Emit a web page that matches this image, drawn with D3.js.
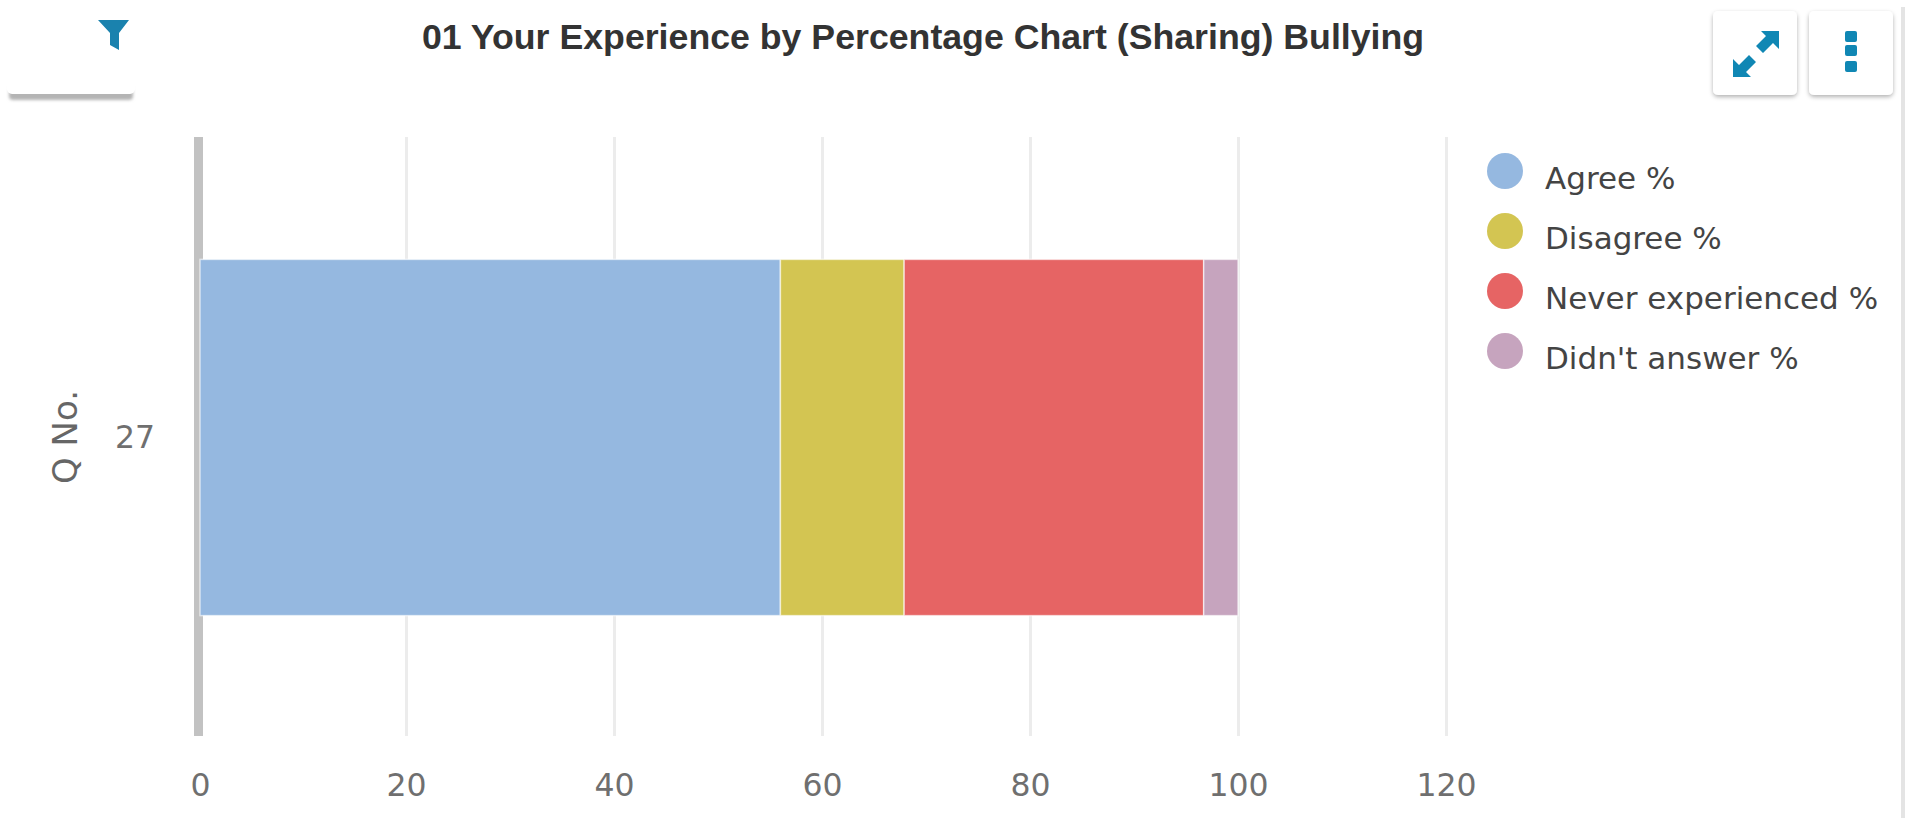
<!DOCTYPE html>
<html>
<head>
<meta charset="utf-8">
<script src="https://cdn.jsdelivr.net/npm/d3@7"></script>
<style>
	html, body { margin: 0; padding: 0; background: #fff; overflow: hidden; }
	.title { font: bold 35.7px "Liberation Sans", Arial, sans-serif; fill: #333; text-anchor: middle; }
	.axis text { font: 31.5px "DejaVu Sans", sans-serif; fill: #6f6f6f; }
	.legend text { font: 31px "DejaVu Sans", sans-serif; fill: #444; }
	.axis-title { font: 34px "DejaVu Sans", sans-serif; fill: #666; text-anchor: middle; }
</style>
</head>
<body>
<svg id="chart"></svg>
<script>
const categories = ['27'];
const seriesNames = ['Agree %', 'Disagree %', 'Never experienced %', "Didn't answer %"];
const agree = [56];
const disagree = [11.9];
const neverExperienced = [28.8];
const didntAnswer = [3.3];
const xTicks = [0, 20, 40, 60, 80, 100, 120];
const colors = ['#95b8e0', '#d3c552', '#e66464', '#c6a4be'];

const outerW = 1905,
	outerH = 818;

const margin = { left: 198, right: 459, top: 137, bottom: 82 };
const w = outerW - margin.left - margin.right,
	h = outerH - margin.top - margin.bottom;

const table = categories.map((c, i) => ({
	category: c,
	[seriesNames[0]]: agree[i],
	[seriesNames[1]]: disagree[i],
	[seriesNames[2]]: neverExperienced[i],
	[seriesNames[3]]: didntAnswer[i]
}));

const svg = d3.select('#chart')
	.attr('width', outerW)
	.attr('height', outerH);

const defs = svg.append('defs');
const shadow = defs.append('filter').attr('id', 'btn-shadow')
	.attr('x', '-10%').attr('y', '-10%').attr('width', '120%').attr('height', '125%');
shadow.append('feDropShadow')
	.attr('dx', 0).attr('dy', 2).attr('stdDeviation', 2)
	.attr('flood-color', '#000').attr('flood-opacity', 0.3);
defs.append('filter').attr('id', 'soft')
	.attr('x', '-10%').attr('y', '-100%').attr('width', '120%').attr('height', '300%')
	.append('feGaussianBlur').attr('stdDeviation', 1.5);

// page furniture: scrollbar edge, filter tab, buttons
svg.append('rect').attr('x', 1901).attr('y', 7).attr('width', 4).attr('height', outerH - 7).attr('fill', '#e4e4e4');

svg.append('rect').attr('x', 9).attr('y', 87).attr('width', 124).attr('height', 13).attr('rx', 4)
	.attr('fill', '#b4b4b4').attr('filter', 'url(#soft)');
svg.append('rect').attr('x', 7).attr('y', 10).attr('width', 128).attr('height', 84).attr('rx', 5)
	.attr('fill', '#fff');
svg.append('path')
	.attr('d', 'M98,20H129L119,33V50L110,45V33Z')
	.attr('fill', '#1a82ae');

[1713, 1809].forEach(bx => {
	svg.append('rect').attr('x', bx).attr('y', 11).attr('width', 84).attr('height', 84).attr('rx', 5)
		.attr('fill', '#fff').attr('filter', 'url(#btn-shadow)');
});
svg.append('path')
	.attr('d', 'M1761,31H1779V49L1773,43L1763,53L1756,46L1766,36Z M1733,77V59L1739,65L1749,55L1756,62L1746,72L1751,77Z')
	.attr('fill', '#1087b4');
[37, 51, 67].forEach(cy => {
	svg.append('rect').attr('x', 1845).attr('y', cy - 6).attr('width', 12).attr('height', 11).attr('rx', 2).attr('fill', '#1087b4');
});

svg.append('text').attr('class', 'title')
	.attr('x', 923).attr('y', 49)
	.text('01 Your Experience by Percentage Chart (Sharing) Bullying');

const g = svg.append('g')
	.attr('transform', `translate(${margin.left}, ${margin.top})`);

const x = d3.scaleLinear().domain([0, 120]).range([0, w]);
const y = d3.scaleBand().domain(categories).range([2, h]).paddingInner(0).paddingOuter(0.338);

// gridlines and labels
const xAxis = g.append('g')
	.attr('class', 'x axis')
	.attr('transform', `translate(0, ${h})`)
	.call(d3.axisBottom(x)
		.tickValues(xTicks)
		.tickSize(-h)
		.tickSizeOuter(0)
		.tickPadding(38)
	);
xAxis.select('.domain').remove();
xAxis.selectAll('line').attr('stroke', '#ececec').attr('stroke-width', 3);
xAxis.selectAll('line').filter(d => d === 0).attr('stroke', '#c2c2c2').attr('stroke-width', 9).attr('x1', 0).attr('x2', 0);
xAxis.selectAll('text').filter(d => d === 0).attr('dx', 2);

const yAxis = g.append('g')
	.attr('class', 'y axis')
	.call(d3.axisLeft(y).tickSize(0).tickPadding(43));
yAxis.select('.domain').remove();

g.append('text').attr('class', 'axis-title')
	.attr('transform', `translate(${65 - margin.left}, ${437 - margin.top}) rotate(-90)`)
	.attr('dy', '0.35em')
	.text('Q No.');

const stacked = d3.stack().keys(seriesNames)(table);

g.selectAll('.bar')
	.data(stacked)
	.enter()
	.append('rect')
	.attr('class', 'bar')
	.attr('x', d => x(d[0][0]) + (d.index === 0 ? 2 : 0))
	.attr('width', d => x(d[0][1]) - x(d[0][0]) - (d.index === 0 ? 2 : 0))
	.attr('y', d => y(d[0].data.category))
	.attr('height', y.bandwidth())
	.attr('fill', d => colors[d.index])
	.attr('stroke', '#fff')
	.attr('stroke-opacity', 0.6)
	.attr('stroke-width', 1.5);

const legend = svg.append('g')
	.attr('class', 'legend')
	.selectAll('g')
	.data(seriesNames)
	.enter()
	.append('g')
	.attr('transform', (d, i) => `translate(1505, ${171 + i * 60})`);

legend.append('circle').attr('r', 18).attr('fill', (d, i) => colors[i]);
legend.append('text').attr('x', 40).attr('y', 18).text(d => d);
</script>
</body>
</html>
